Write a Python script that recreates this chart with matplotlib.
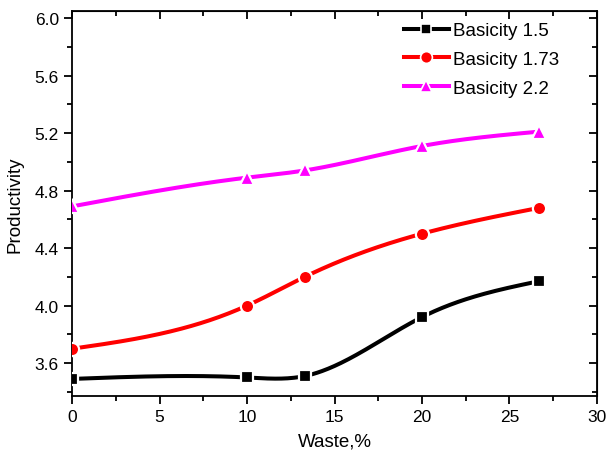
import numpy as np
import matplotlib.pyplot as plt

plt.rcParams['font.family'] = ['Liberation Sans', 'DejaVu Sans']

# Données
waste = [0, 10, 13.3, 20, 26.7]
basicity_15 = [3.49, 3.50, 3.51, 3.92, 4.17]
basicity_173 = [3.70, 4.00, 4.20, 4.50, 4.68]
basicity_22 = [4.69, 4.89, 4.94, 5.11, 5.21]

labels = ["Basicity 1.5", "Basicity 1.73", "Basicity 2.2"]
colors = ["black", "red", "#ff00ff"]
markers = ["s", "o", "^"]


def spline_naturelle(x, y, n=300):
    # spline cubique naturelle pour le tracé lissé (comme Origin)
    x = np.asarray(x, float)
    y = np.asarray(y, float)
    m = len(x)
    h = np.diff(x)
    A = np.zeros((m, m))
    b = np.zeros(m)
    A[0, 0] = A[-1, -1] = 1
    for i in range(1, m - 1):
        A[i, i - 1] = h[i - 1]
        A[i, i] = 2 * (h[i - 1] + h[i])
        A[i, i + 1] = h[i]
        b[i] = 6 * ((y[i + 1] - y[i]) / h[i] - (y[i] - y[i - 1]) / h[i - 1])
    M = np.linalg.solve(A, b)
    xs = np.linspace(x[0], x[-1], n)
    k = np.clip(np.searchsorted(x, xs) - 1, 0, m - 2)
    t1 = x[k + 1] - xs
    t0 = xs - x[k]
    ys = (M[k] * t1**3 + M[k + 1] * t0**3) / (6 * h[k]) \
        + (y[k] / h[k] - M[k] * h[k] / 6) * t1 \
        + (y[k + 1] / h[k] - M[k + 1] * h[k] / 6) * t0
    return xs, ys


fig = plt.figure(figsize=(6.06, 4.56), dpi=100)
ax = fig.add_axes([0.119, 0.129, 0.866, 0.845])

for serie, lab, c, mk in zip([basicity_15, basicity_173, basicity_22], labels, colors, markers):
    xs, ys = spline_naturelle(waste, serie)
    ax.plot(xs, ys, "-", color=c, lw=2.9, zorder=2)
    ax.plot(waste, serie, mk, color=c, markersize=9.5 if mk != "s" else 8,
            markeredgecolor="white", markeredgewidth=1.6, zorder=3)
    # entrée de légende
    ax.plot([], [], "-", marker=mk, color=c, lw=2.9, markersize=8.5 if mk != "s" else 7,
            markeredgecolor="white", markeredgewidth=1.2, label=lab)

ax.set_xlim(0, 30)
ax.set_ylim(3.37, 6.05)
ax.set_xticks([0, 5, 10, 15, 20, 25, 30])
ax.set_xticks(np.arange(2.5, 30, 5), minor=True)
ax.set_yticks([3.6, 4.0, 4.4, 4.8, 5.2, 5.6, 6.0])
ax.set_yticks([3.4, 3.8, 4.2, 4.6, 5.0, 5.4, 5.8], minor=True)
ax.set_yticklabels(["3.6", "4.0", "4.4", "4.8", "5.2", "5.6", "6.0"])

ax.tick_params(which="both", direction="out", width=1.3, labelsize=12.5, top=False, right=False)
ax.tick_params(which="major", length=6)
ax.tick_params(which="minor", length=3.5)
for s in ax.spines.values():
    s.set_linewidth(1.3)

# graduations intérieures en haut et à droite
ax_top = ax.secondary_xaxis("top")
ax_top.set_xticks([0, 5, 10, 15, 20, 25, 30])
ax_top.set_xticks(np.arange(2.5, 30, 5), minor=True)
ax_top.tick_params(which="both", direction="in", width=1.3, labeltop=False)
ax_top.tick_params(which="major", length=6)
ax_top.tick_params(which="minor", length=3.5)
ax_right = ax.secondary_yaxis("right")
ax_right.set_yticks([3.6, 4.0, 4.4, 4.8, 5.2, 5.6, 6.0])
ax_right.set_yticks([3.4, 3.8, 4.2, 4.6, 5.0, 5.4, 5.8], minor=True)
ax_right.tick_params(which="both", direction="in", width=1.3, labelright=False)
ax_right.tick_params(which="major", length=6)
ax_right.tick_params(which="minor", length=3.5)

ax.set_xlabel("Waste,%", fontsize=13.5, labelpad=6)
ax.set_ylabel("Productivity", fontsize=13.5, labelpad=8)
ax.legend(loc="upper left", bbox_to_anchor=(0.6, 1.015), frameon=False, fontsize=13.5,
          handlelength=2.4, handletextpad=0.2, labelspacing=0.62)

fig.savefig("out.png", dpi=100)
